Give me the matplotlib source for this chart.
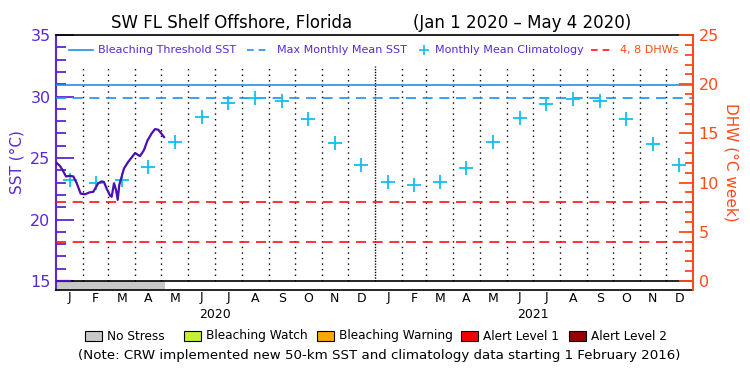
import numpy as np
import matplotlib
matplotlib.use("Agg")
import matplotlib.pyplot as plt
from matplotlib.lines import Line2D
from matplotlib.patches import Rectangle

# daily SST, days since Jan 1 2020
sst_day = [0.8, 4.6, 7.7, 11.5, 16, 19.9, 23.8, 28.3, 33.3, 38.2, 42.8, 48.5, 52.4,
           55, 58.2, 62, 63.9, 66.6, 68.9, 70.8, 72.6, 75.4, 78, 83, 86.9, 90.7,
           96.4, 101, 104.8, 109.8, 113.6, 117.4, 124]
sst_val = [24.6, 24.35, 24.0, 23.5, 23.55, 23.5, 22.95, 22.1, 22.05, 22.2, 22.25, 22.95, 23.1,
           23.05, 22.5, 21.95, 21.85, 22.95, 22.4, 21.6, 22.8, 23.5, 24.15, 24.7, 25.05, 25.4,
           25.15, 25.65, 26.4, 27.0, 27.35, 27.3, 26.7]

clim_2020 = [23.2, 22.95, 23.2, 24.3, 26.3, 28.3, 29.45, 29.85, 29.6, 28.2, 26.2, 24.4]
clim_2021 = [23.05, 22.8, 23.05, 24.2, 26.3, 28.25, 29.4, 29.8, 29.6, 28.2, 26.1, 24.4]

bleach_threshold = 30.9
mmm = 29.9
dhw_levels = [4, 8]
no_stress_end = 125  # day of May 4

month_len_2020 = [31, 29, 31, 30, 31, 30, 31, 31, 30, 31, 30, 31]
month_len_2021 = [31, 28, 31, 30, 31, 30, 31, 31, 30, 31, 30, 31]
month_letters = ["J", "F", "M", "A", "M", "J", "J", "A", "S", "O", "N", "D"]
years = ["2020", "2021"]

PURPLE = "#5a28d2"
LINE_PURPLE = "#4a10b0"
ORANGE = "#ff4a1a"
BLUE = "#1e8ff0"
CYAN = "#10bff0"
RED = "#ff1010"

edges = np.concatenate([[0], np.cumsum(month_len_2020 + month_len_2021)])
mids = (edges[:-1] + edges[1:]) / 2
xmax = edges[-1]

fig = plt.figure(figsize=(7.5, 3.75), dpi=100)
ax = fig.add_axes([56 / 750, 1 - 290 / 375, 637 / 750, 255 / 375])
sst_lo = 15 - 9 / 12.3
ax.set_xlim(0, xmax)
ax.set_ylim(sst_lo, 35)

# no stress bar
ax.add_patch(Rectangle((0, sst_lo), no_stress_end, 15 - sst_lo, color="#c8c8c8", lw=0, zorder=1))
ax.axhline(15, color="black", lw=1.2, zorder=3)

# month separators
for e in edges[1:-1]:
    ls = (0, (1, 1)) if e == edges[12] else (0, (1, 3))
    ax.plot([e, e], [15, 32.5], color="black", lw=1, ls=ls, zorder=2)

ax.axhline(bleach_threshold, color=BLUE, lw=1.2, zorder=3)
ax.axhline(mmm, color=BLUE, lw=1.2, ls=(0, (6, 4)), zorder=3)
for d in dhw_levels:
    ax.axhline(15 + d / 1.25, color=RED, lw=1.2, ls=(0, (6, 4)), zorder=3)

ax.plot(mids, clim_2020 + clim_2021, ls="none", marker="+", ms=10, mew=1.3, color=CYAN, zorder=4)
ax.plot(sst_day, sst_val, color=LINE_PURPLE, lw=1.6, zorder=5)
ax.plot([0, 16], [15, 15], color=LINE_PURPLE, lw=1.6, zorder=5)

# left axis
ax.set_yticks([15, 20, 25, 30, 35])
ax.set_yticks(np.arange(16, 35, 1), minor=True)
ax.tick_params(axis="y", which="major", direction="in", length=13, width=1.3, colors=PURPLE,
               labelsize=11.5, pad=4)
ax.tick_params(axis="y", which="minor", direction="in", length=7, width=1.3, colors=PURPLE)
ax.set_ylabel("SST (°C)", color=PURPLE, fontsize=11, labelpad=4)
ax.set_xticks([])

for s in ["top", "bottom"]:
    ax.spines[s].set_color("black")
    ax.spines[s].set_linewidth(1.2)
ax.spines["left"].set_color(PURPLE)
ax.spines["left"].set_linewidth(1.5)
ax.spines["right"].set_visible(False)

# right axis (DHW)
ax2 = ax.twinx()
ax2.set_ylim((sst_lo - 15) * 1.25, 25)
ax2.set_yticks([0, 5, 10, 15, 20, 25])
ax2.set_yticks(np.arange(1, 25, 1), minor=True)
ax2.tick_params(axis="y", which="major", direction="in", length=10, width=1.3, colors=ORANGE,
                labelsize=11.5, pad=4)
ax2.tick_params(axis="y", which="minor", direction="in", length=6, width=1.3, colors=ORANGE)
ax2.set_ylabel("DHW (°C week)", color=ORANGE, fontsize=11, rotation=270, labelpad=14)
ax2.spines["right"].set_color(ORANGE)
ax2.spines["right"].set_linewidth(1.5)
for s in ["top", "bottom", "left"]:
    ax2.spines[s].set_visible(False)

# month and year labels
for m, lab in zip(mids, month_letters * 2):
    ax.text(m, -8 / 255, lab, transform=ax.get_xaxis_transform(), ha="center", va="center",
            fontsize=9)
for k, yr in enumerate(years):
    ax.text(edges[12 * k + 6], -24 / 255, yr, transform=ax.get_xaxis_transform(),
            ha="center", va="center", fontsize=9)

def fx(px):
    return px / 750

def fy(py):
    return 1 - py / 375

fig.text(fx(232), fy(23), "SW FL Shelf Offshore, Florida", ha="center", va="center", fontsize=12)
fig.text(fx(522), fy(23), "(Jan 1 2020 – May 4 2020)", ha="center", va="center", fontsize=12)

# in-plot legend
ly = fy(50)
fig.add_artist(Line2D([fx(69), fx(93)], [ly, ly], color=BLUE, lw=1.2))
fig.text(fx(98), ly, "Bleaching Threshold SST", color=PURPLE, fontsize=8, va="center")
fig.add_artist(Line2D([fx(247), fx(270)], [ly, ly], color=BLUE, lw=1.2, ls=(0, (4, 3))))
fig.text(fx(277), ly, "Max Monthly Mean SST", color=PURPLE, fontsize=8, va="center")
fig.add_artist(Line2D([fx(424)], [ly], color=CYAN, marker="+", ms=7, mew=1.2))
fig.text(fx(435), ly, "Monthly Mean Climatology", color=PURPLE, fontsize=8, va="center")
fig.add_artist(Line2D([fx(591), fx(614)], [ly, ly], color=RED, lw=1.2, ls=(0, (4, 3))))
fig.text(fx(620), ly, "4, 8 DHWs", color=ORANGE, fontsize=8, va="center")

# alert legend
alert_labels = ["No Stress", "Bleaching Watch", "Bleaching Warning", "Alert Level 1", "Alert Level 2"]
alert_colors = ["#c8c8c8", "#c8f032", "#f8a800", "#f00000", "#960000"]
alert_x = [85, 184, 317, 461, 569]
by = fy(336)
for x0, lab, c in zip(alert_x, alert_labels, alert_colors):
    fig.add_artist(Rectangle((fx(x0), by - 5 / 375), 17 / 750, 10 / 375, facecolor=c,
                             edgecolor="black", lw=0.8, transform=fig.transFigure))
    fig.text(fx(x0 + 22), by, lab, fontsize=8.7, va="center")
fig.text(fx(379), fy(355),
         "(Note: CRW implemented new 50-km SST and climatology data starting 1 February 2016)",
         ha="center", va="center", fontsize=9.6)

fig.savefig("out.png", dpi=100)
